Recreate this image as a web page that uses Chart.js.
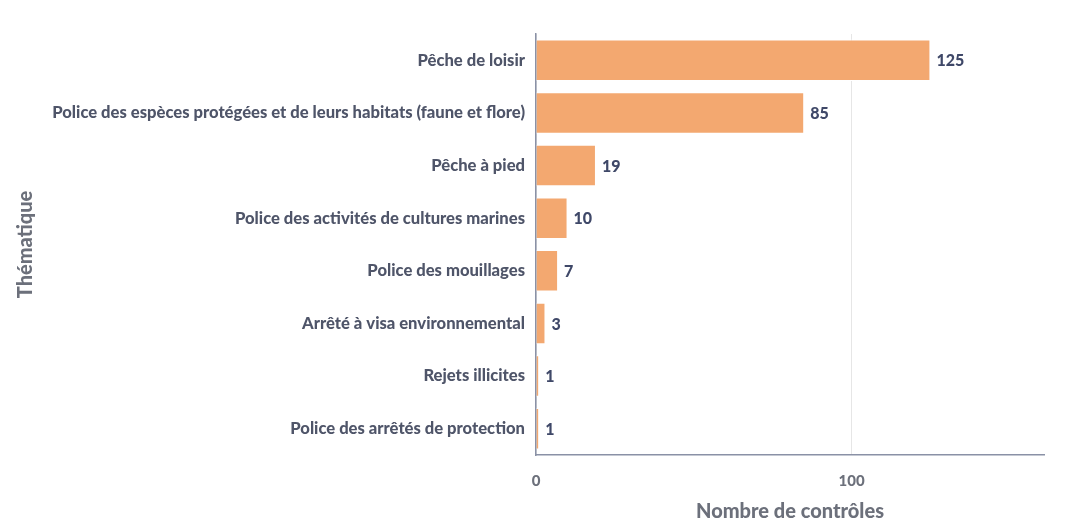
<!DOCTYPE html>
<html lang="fr">
<head>
<meta charset="utf-8">
<script src="https://cdn.jsdelivr.net/npm/chart.js@4/dist/chart.umd.min.js"></script>
<style>
  body { margin: 0; background: #fff; }
  #wrap { width: 1065px; height: 525px; }
</style>
</head>
<body>
<div id="wrap"><canvas id="myChart" width="1065" height="525"></canvas></div>
<script>
// contrôles par thématique
const themes = [
    "Pêche de loisir",
    "Police des espèces protégées et de leurs habitats (faune et flore)",
    "Pêche à pied",
    "Police des activités de cultures marines",
    "Police des mouillages",
    "Arrêté à visa environnemental",
    "Rejets illicites",
    "Police des arrêtés de protection"
];
const nbControles = [125, 85, 19, 10, 7, 3, 1, 1];
const xTitle = "Nombre de contrôles";
const yTitle = "Thématique";

// writes the value just past the end of each bar
const valueLabels = {
    id: "valueLabels",
    afterDatasetsDraw(chart) {
        const ctx = chart.ctx;
        const meta = chart.getDatasetMeta(0);
        ctx.save();
        ctx.font = "900 16px Lato";
        ctx.fillStyle = "#3f4868";
        ctx.textAlign = "left";
        ctx.textBaseline = "middle";
        meta.data.forEach(function(bar, i) {
            ctx.fillText(String(nbControles[i]), bar.x + 6, bar.y + 1);
        });
        ctx.restore();
    }
};

Chart.defaults.font.family = "Lato";

new Chart("myChart", {
    type: "bar",
    data: {
        labels: themes,
        datasets: [{
            data: nbControles,
            backgroundColor: "#f3a870",
            borderColor: "#ffffff",
            borderWidth: 1,
            barPercentage: 0.79,
            categoryPercentage: 1
        }]
    },
    options: {
        indexAxis: "y",
        responsive: false,
        animation: false,
        layout: { padding: { top: 34, right: 21, left: 8, bottom: 1 } },
        plugins: {
            legend: { display: false },
            tooltip: { enabled: false }
        },
        scales: {
            x: {
                min: 0,
                max: 161,
                // fixed height so the plot ends at the same place
                afterFit(scale) { scale.height = 69; },
                ticks: {
                    stepSize: 100,
                    includeBounds: false,
                    color: "#6c707b",
                    font: { size: 15, weight: "900" },
                    padding: 17
                },
                grid: { color: "#e6e6e6", drawTicks: false },
                border: { color: "#8a91a6", width: 1.5 },
                title: {
                    display: true,
                    text: xTitle,
                    color: "#6c707b",
                    font: { size: 20, weight: "900" },
                    padding: { top: 0, bottom: 0 }
                }
            },
            y: {
                // keep the plot's left edge fixed
                afterFit(scale) { scale.width = 528; },
                ticks: {
                    color: "#4f5569",
                    font: { size: 16.6, weight: "900" },
                    padding: 11
                },
                grid: { display: false, drawTicks: false },
                border: { color: "#8a91a6", width: 1.5 },
                title: {
                    display: true,
                    text: yTitle,
                    color: "#6c707b",
                    font: { size: 20, weight: "900" },
                    padding: { top: 6, bottom: 0 }
                }
            }
        }
    },
    plugins: [valueLabels]
});
</script>
</body>
</html>
